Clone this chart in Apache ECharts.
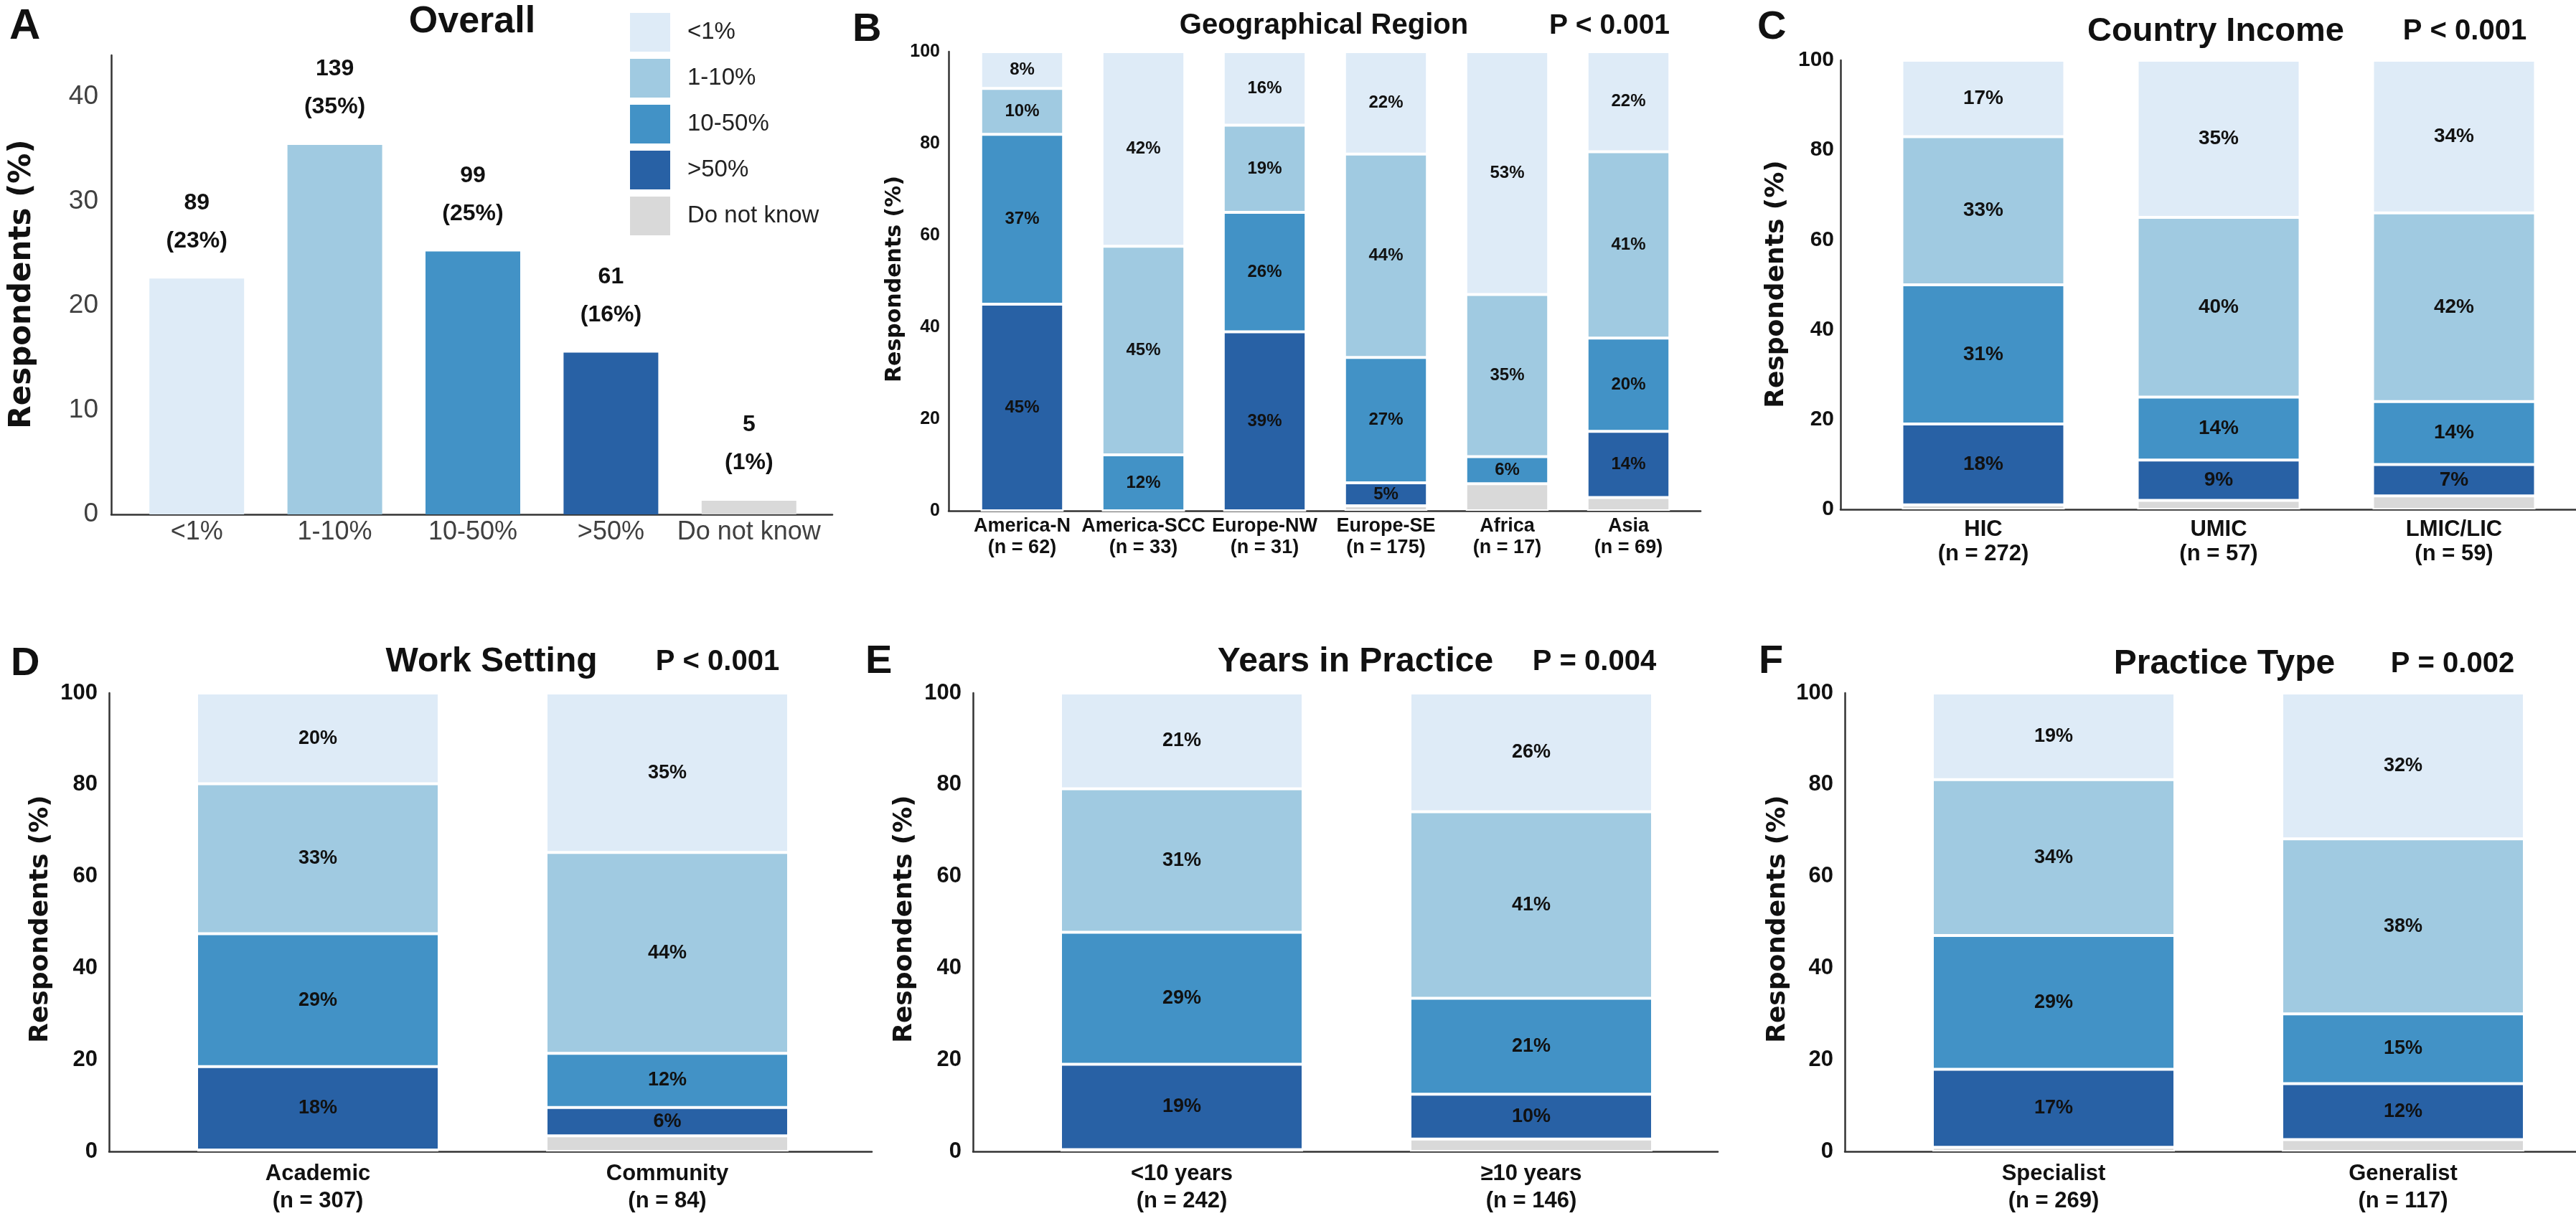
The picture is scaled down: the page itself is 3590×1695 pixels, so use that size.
<!DOCTYPE html>
<html><head><meta charset="utf-8">
<script src="https://cdn.jsdelivr.net/npm/echarts/dist/echarts.min.js"></script>
<style>html,body{margin:0;padding:0;background:#fff}#chart{width:3590px;height:1695px}</style>
</head><body><div id="chart"></div>
<script>
// ---------------- DATA ----------------
const levelNames = ['<1%', '1-10%', '10-50%', '>50%', 'Do not know'];
const overallCounts = [89, 139, 99, 61, 5];
const overallPct = [22.6, 35.4, 25.2, 15.5, 1.3];

const regionNames = ['America-N', 'America-SCC', 'Europe-NW', 'Europe-SE', 'Africa', 'Asia'];
const regionN = [62, 33, 31, 175, 17, 69];
const regionDNK = [0, 0, 0, 1.1, 5.9, 2.9];
const regionGT50 = [45, 0, 39, 5, 0, 14.4];
const region10to50 = [37, 12.2, 26, 27.3, 5.9, 20.3];
const region1to10 = [10, 45.4, 19, 44.3, 35.3, 40.6];
const regionLT1 = [8, 42.4, 16, 22.3, 52.9, 21.8];

const incomeNames = ['HIC', 'UMIC', 'LMIC/LIC'];
const incomeN = [272, 57, 59];
const incomeDNK = [1, 2, 3];
const incomeGT50 = [18, 9, 7];
const income10to50 = [31, 14, 14];
const income1to10 = [33, 40, 42];
const incomeLT1 = [17, 35, 34];

const settingNames = ['Academic', 'Community'];
const settingN = [307, 84];
const settingDNK = [0.3, 3.4];
const settingGT50 = [18.2, 6.2];
const setting10to50 = [29, 11.8];
const setting1to10 = [32.7, 43.8];
const settingLT1 = [19.8, 34.8];

const yearsNames = ['<10 years', '\u226510 years'];
const yearsN = [242, 146];
const yearsDNK = [0.4, 2.7];
const yearsGT50 = [18.6, 9.8];
const years10to50 = [28.8, 20.9];
const years1to10 = [31.3, 40.7];
const yearsLT1 = [20.9, 25.9];

const typeNames = ['Specialist', 'Generalist'];
const typeN = [269, 117];
const typeDNK = [0.9, 2.6];
const typeGT50 = [17, 12.2];
const type10to50 = [29.2, 15.2];
const type1to10 = [34, 38.2];
const typeLT1 = [18.9, 31.8];

// ---------------- STYLE ----------------
const COLORS = {'<1%': '#DEEBF7', '1-10%': '#A0CAE1', '10-50%': '#4292C6', '>50%': '#2861A5', 'Do not know': '#D9D9D9'};
const FONT = "'Liberation Sans', Arial, sans-serif";
const WIDE = "'DejaVu Sans', Verdana, sans-serif";
const AX = '#333';

const grids = [], xAxes = [], yAxes = [], series = [];

function addFrame(f) {
  const gi = grids.length;
  grids.push({left: f.left, top: f.top, width: f.width, height: f.height, outerBoundsMode: 'none', containLabel: false});
  xAxes.push({gridIndex: gi, type: 'value', min: 0, max: 1, axisLine: {show: true, onZero: false, lineStyle: {color: AX, width: 2.5}},
    axisTick: {show: false}, axisLabel: {show: false}, splitLine: {show: false}});
  yAxes.push({gridIndex: gi, type: 'value', min: 0, max: f.max, interval: f.interval,
    axisLine: {show: true, lineStyle: {color: AX, width: 2.5}}, axisTick: {show: false}, splitLine: {show: false},
    axisLabel: Object.assign({margin: f.labelMargin, formatter: v => (v % f.interval === 0 ? String(v) : '')}, f.label)});
}

function addBarGrid(b) {
  const gi = grids.length;
  grids.push({left: b.left, top: b.top, width: b.width, height: b.height, outerBoundsMode: 'none', containLabel: false});
  xAxes.push({gridIndex: gi, type: 'category', data: b.cats, axisLine: {show: false}, axisTick: {show: false},
    axisLabel: Object.assign({interval: 0, margin: b.labelMargin}, b.label)});
  yAxes.push({gridIndex: gi, type: 'value', min: 0, max: b.max, show: false});
  return gi;
}

function stackedPanel(p) {
  addFrame({left: p.axisX, top: p.top, width: p.frameRight - p.axisX, height: p.height, max: 100, interval: 20,
    labelMargin: p.yMargin, label: {fontSize: p.ySize, fontWeight: 'bold', color: '#111', fontFamily: FONT}});
  const cats = p.names.map((n, i) => n + '\n(n = ' + p.ns[i] + ')');
  const gi = addBarGrid({left: p.barLeft, top: p.top, width: p.barWidth, height: p.height, max: 100, cats: cats,
    labelMargin: p.xMargin, label: {fontSize: p.xSize, lineHeight: p.xLine, fontWeight: 'bold', color: '#111', fontFamily: FONT}});
  const layers = [['Do not know', p.dnk], ['>50%', p.gt50], ['10-50%', p.p10], ['1-10%', p.p1], ['<1%', p.lt1]];
  layers.forEach(([name, vals]) => {
    series.push({
      type: 'bar', name: name, stack: 'S' + gi, xAxisIndex: gi, yAxisIndex: gi, data: vals,
      barCategoryGap: p.gap, clip: true,
      itemStyle: {color: COLORS[name], borderColor: '#fff', borderWidth: 2},
      label: {show: name !== 'Do not know', position: 'inside', color: '#111', fontWeight: 'bold', fontFamily: FONT,
        fontSize: p.segSize, textBorderWidth: 0,
        formatter: d => (d.value > 0 ? Math.round(d.value) + '%' : '')}
    });
  });
}

// ---------------- PANEL A ----------------
addFrame({left: 155, top: 77, width: 1005, height: 640, max: 44, interval: 10, labelMargin: 18,
  label: {fontSize: 37, color: '#404040', fontFamily: FONT}});
const giA = addBarGrid({left: 178, top: 77, width: 962, height: 640, max: 44, cats: levelNames, labelMargin: 7,
  label: {fontSize: 36, color: '#404040', fontFamily: FONT}});
levelNames.forEach((name, i) => {
  series.push({
    type: 'bar', name: name, stack: 'A', xAxisIndex: giA, yAxisIndex: giA, barCategoryGap: '31.4%',
    data: levelNames.map((c, j) => (j === i ? overallPct[i] : '-')),
    itemStyle: {color: COLORS[name]},
    label: {show: true, position: 'top', distance: 26, color: '#111', fontWeight: 'bold', fontFamily: FONT,
      fontSize: 32, lineHeight: 53, textBorderWidth: 0,
      formatter: () => overallCounts[i] + '\n(' + Math.round(overallPct[i]) + '%)'}
  });
});

// ---------------- PANELS B-F ----------------
stackedPanel({axisX: 1322, frameRight: 2370, top: 72, height: 640, barLeft: 1340, barWidth: 1014, gap: '31.7%',
  names: regionNames, ns: regionN, dnk: regionDNK, gt50: regionGT50, p10: region10to50, p1: region1to10, lt1: regionLT1,
  ySize: 25, yMargin: 12, xSize: 27, xLine: 30, xMargin: 7, segSize: 24});
stackedPanel({axisX: 2565, frameRight: 3590, top: 84, height: 626, barLeft: 2600, barWidth: 984, gap: '30.8%',
  names: incomeNames, ns: incomeN, dnk: incomeDNK, gt50: incomeGT50, p10: income10to50, p1: income1to10, lt1: incomeLT1,
  ySize: 30, yMargin: 9, xSize: 31, xLine: 34, xMargin: 11, segSize: 28});
stackedPanel({axisX: 152, frameRight: 1215, top: 966, height: 639, barLeft: 199.5, barWidth: 974, gap: '30.6%',
  names: settingNames, ns: settingN, dnk: settingDNK, gt50: settingGT50, p10: setting10to50, p1: setting1to10, lt1: settingLT1,
  ySize: 31, yMargin: 16, xSize: 31, xLine: 38, xMargin: 12, segSize: 27});
stackedPanel({axisX: 1356, frameRight: 2394, top: 966, height: 639, barLeft: 1403.5, barWidth: 974, gap: '30.6%',
  names: yearsNames, ns: yearsN, dnk: yearsDNK, gt50: yearsGT50, p10: years10to50, p1: years1to10, lt1: yearsLT1,
  ySize: 31, yMargin: 16, xSize: 31, xLine: 38, xMargin: 12, segSize: 27});
stackedPanel({axisX: 2571, frameRight: 3590, top: 966, height: 639, barLeft: 2618.5, barWidth: 974, gap: '30.6%',
  names: typeNames, ns: typeN, dnk: typeDNK, gt50: typeGT50, p10: type10to50, p1: type1to10, lt1: typeLT1,
  ySize: 31, yMargin: 16, xSize: 31, xLine: 38, xMargin: 12, segSize: 27});

// ---------------- TEXT ----------------
function txt(x, y, text, size, o) {
  o = o || {};
  return {type: 'text', x: x, y: y, rotation: o.rot || 0, z: 100,
    style: {text: text, fontSize: size, fontWeight: o.weight || 'bold', fontFamily: o.font || FONT, fill: o.color || '#111',
      textAlign: o.align || 'center', textVerticalAlign: 'middle', align: o.align || 'center', verticalAlign: 'middle'}};
}
const texts = [
  txt(13, 37, 'A', 60, {align: 'left'}), txt(1188, 42, 'B', 56, {align: 'left'}), txt(2449, 39, 'C', 56, {align: 'left'}),
  txt(15, 926, 'D', 56, {align: 'left'}), txt(1206, 923, 'E', 56, {align: 'left'}), txt(2451, 923, 'F', 56, {align: 'left'}),
  txt(658, 31, 'Overall', 52),
  txt(1845, 36, 'Geographical Region', 40), txt(2243, 36, 'P < 0.001', 39),
  txt(3088, 44, 'Country Income', 47), txt(3435, 44, 'P < 0.001', 40),
  txt(685, 923, 'Work Setting', 48), txt(1000, 923, 'P < 0.001', 40),
  txt(1889, 923, 'Years in Practice', 48), txt(2222, 923, 'P = 0.004', 40),
  txt(3100, 926, 'Practice Type', 48), txt(3418, 926, 'P = 0.002', 40),
  txt(31, 396, 'Respondents (%)', 42, {rot: Math.PI / 2, font: WIDE}),
  txt(1247, 389, 'Respondents (%)', 30, {rot: Math.PI / 2, font: WIDE}),
  txt(2476, 396, 'Respondents (%)', 36, {rot: Math.PI / 2, font: WIDE}),
  txt(57, 1281, 'Respondents (%)', 36, {rot: Math.PI / 2, font: WIDE}),
  txt(1261, 1281, 'Respondents (%)', 36, {rot: Math.PI / 2, font: WIDE}),
  txt(2478, 1281, 'Respondents (%)', 36, {rot: Math.PI / 2, font: WIDE})
];

const chart = echarts.init(document.getElementById('chart'), null, {renderer: 'canvas'});
chart.setOption({
  backgroundColor: '#fff',
  animation: false,
  legend: {
    data: levelNames, orient: 'vertical', left: 873, top: 13, itemWidth: 56, itemHeight: 54, itemGap: 10,
    icon: 'rect', selectedMode: false,
    formatter: name => '{t|' + name + '}',
    textStyle: {fontSize: 33, color: '#222', fontFamily: FONT,
      rich: {t: {fontSize: 33, color: '#222', fontFamily: FONT, padding: [0, 0, 0, 19]}}}
  },
  grid: grids, xAxis: xAxes, yAxis: yAxes, series: series,
  graphic: texts
});
</script></body></html>
